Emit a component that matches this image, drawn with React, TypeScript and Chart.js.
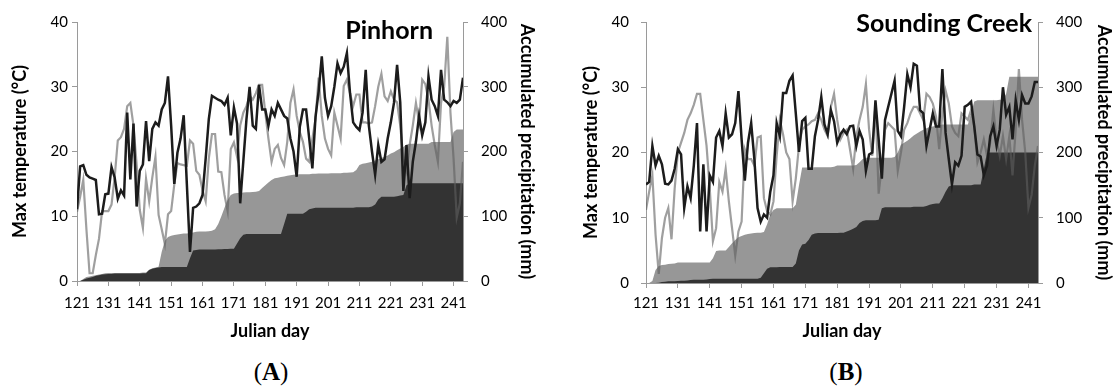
import React, { useEffect, useRef } from 'react';
import { Chart, registerables } from 'chart.js';

Chart.register(...registerables);

// Julian days on the x axis (one value per day)
const FIRST_DAY = 121;
const LAST_DAY = 244;
const julianDays: number[] = Array.from({ length: LAST_DAY - FIRST_DAY + 1 }, (_, i) => FIRST_DAY + i);
const dayTicks = [121, 131, 141, 151, 161, 171, 181, 191, 201, 211, 221, 231, 241];
const tempTicks = [0, 10, 20, 30, 40];
const precipTicks = [0, 100, 200, 300, 400];

// Pinhorn: daily maximum temperature (°C)
const pinhornTempDark = [
  11.1, 17.7, 17.9, 16.4, 16.0, 15.8, 15.6, 10.3, 10.4, 13.4,
  13.5, 17.6, 16.0, 12.7, 14.0, 13.2, 26.0, 15.7, 24.3, 11.5,
  17.0, 18.0, 24.7, 18.5, 23.5, 24.5, 24.0, 26.5, 27.5, 31.6,
  24.0, 15.0, 19.8, 22.0, 25.6, 15.0, 4.5, 11.3, 11.5, 12.0,
  13.3, 18.9, 25.0, 28.6, 28.3, 28.0, 27.8, 27.2, 28.3, 22.5,
  26.8, 24.3, 12.0, 18.5, 25.0, 30.0, 24.0, 23.5, 30.3, 26.5,
  26.5, 24.0, 26.5, 25.5, 27.5, 26.5, 25.5, 25.1, 22.0, 20.0,
  16.1, 23.8, 26.5, 26.5, 22.0, 17.4, 25.3, 29.3, 34.7, 28.3,
  25.5, 27.0, 30.0, 33.6, 32.1, 33.1, 35.2, 29.0, 24.5, 23.8,
  23.3, 26.0, 32.6, 24.0, 20.0, 16.4, 21.0, 18.4, 18.8, 22.0,
  24.5, 27.5, 33.4, 27.6, 13.9, 21.0, 12.8, 18.4, 21.5, 25.5,
  22.5, 24.5, 31.6, 28.0, 27.0, 25.5, 32.6, 28.0, 27.6, 27.0,
  27.8, 27.5, 28.0, 31.4,
];
const pinhornTempGrey = [
  10.7, 13.0, 15.6, 8.0, 1.2, 1.2, 4.0, 6.5, 10.8, 10.8,
  10.8, 11.8, 16.0, 21.7, 22.2, 23.5, 27.0, 27.5, 24.0, 18.0,
  11.0, 8.2, 15.8, 12.3, 16.0, 19.2, 10.2, 8.0, 5.7, 10.3,
  10.8, 14.9, 18.2, 18.0, 17.9, 17.8, 21.7, 21.2, 17.0, 16.4,
  14.0, 12.3, 18.9, 22.7, 22.7, 16.9, 16.8, 13.3, 10.8, 20.4,
  21.4, 19.2, 24.0, 26.0, 27.0, 28.6, 28.0, 29.0, 30.3, 30.3,
  26.0, 22.0, 18.4, 20.4, 21.0, 19.0, 17.9, 21.5, 27.5, 29.6,
  25.5, 23.0, 21.5, 18.9, 18.4, 22.0, 25.0, 31.4, 25.5, 22.0,
  20.4, 19.4, 26.0, 24.0, 22.0, 30.1, 31.1, 29.0, 27.0, 28.8,
  28.8, 24.5, 24.5, 24.3, 24.5, 27.0, 30.0, 32.0, 28.5, 27.8,
  29.3, 28.0, 27.6, 24.0, 18.9, 17.0, 21.0, 24.0, 27.5, 24.5,
  31.1, 30.4, 28.0, 24.0, 21.0, 18.4, 27.5, 30.0, 37.7, 26.0,
  18.9, 9.8, 12.0, 18.4,
];
// Pinhorn: accumulated precipitation (mm)
const pinhornPrecipDark = [
  0, 0, 2, 4, 5, 6, 8, 9, 10, 10.5,
  11, 11, 11.5, 11.5, 11.5, 11.5, 11.5, 11.5, 11.5, 11.5,
  11.5, 12, 12, 17, 19, 20, 21, 21.8, 21.8, 21.8,
  21.8, 21.8, 21.8, 21.8, 21.8, 21.8, 35, 47, 48, 48.5,
  48.5, 48.5, 48.5, 48.5, 48.5, 49, 49, 49.5, 49.5, 50,
  50, 58, 66, 71.5, 72.6, 72.6, 72.6, 72.6, 72.6, 72.6,
  72.6, 72.6, 72.6, 72.6, 72.6, 72.6, 88, 104, 104, 104,
  104, 104, 104, 107, 111, 112, 113, 113, 113, 113,
  113, 113, 113, 113, 113, 113, 113, 113, 113, 114,
  114, 114, 114, 114, 115, 118, 126, 130, 130, 130,
  130, 130, 131, 132, 133, 148, 151, 151, 151, 151,
  151, 151, 151, 151, 151, 151, 151, 151, 151, 151,
  151, 151, 151, 151,
];
const pinhornPrecipGrey = [
  0, 0, 3, 6, 7, 8, 9, 10, 11, 12,
  12.5, 12.5, 12.5, 12.5, 12.5, 12.5, 12.5, 12.5, 12.5, 12.5,
  12.5, 13, 13, 17.5, 19.5, 21, 22, 45, 62, 68,
  70, 71, 72, 72.6, 73.5, 73.5, 74, 75, 76, 76.5,
  76.5, 76.5, 77, 77.6, 80, 88, 100, 113, 125, 133,
  135, 136, 136, 136.5, 137, 137, 137.5, 138, 139, 143.5,
  148, 152, 156, 158.7, 159.5, 160.5, 161.5, 162.5, 163.5, 164,
  164.5, 165, 165, 165, 165, 165.5, 165.5, 166, 166, 166,
  166, 166.5, 166.5, 166.5, 166.5, 167, 167, 167.5, 168, 171.5,
  179, 181, 182, 183, 184, 186, 188, 190, 192, 194,
  197, 199, 202, 204.6, 207, 210.7, 212, 212, 212, 212,
  212, 212, 212, 214.7, 214.7, 214.7, 214.7, 214.7, 214.7, 214.7,
  230, 234, 234, 234,
];

// Sounding Creek: daily maximum temperature (°C)
const soundingTempDark = [
  15.1, 15.5, 21.0, 18.0, 19.5, 18.2, 15.2, 15.1, 15.7, 17.5,
  20.5, 19.7, 11.5, 14.8, 13.0, 18.0, 24.5, 7.9, 18.2, 7.9,
  16.5, 15.5, 22.3, 23.3, 21.0, 26.0, 22.3, 22.8, 24.5, 29.4,
  22.0, 15.7, 21.5, 24.5, 19.0, 11.5, 9.4, 10.5, 10.0, 14.0,
  16.5, 24.5, 22.5, 29.1, 29.1, 31.0, 31.8, 26.0, 20.1, 24.8,
  25.3, 17.5, 17.5, 22.5, 25.0, 28.5, 24.3, 22.8, 26.5, 24.8,
  21.5, 22.8, 23.5, 22.8, 24.0, 24.1, 21.0, 23.3, 22.0, 17.2,
  19.7, 20.0, 28.0, 22.0, 16.0, 25.0, 27.0, 29.0, 31.0, 23.3,
  22.5, 27.0, 32.0, 30.0, 33.6, 33.3, 26.5, 26.0, 21.0, 23.5,
  26.0, 24.0, 24.0, 32.8, 23.0, 19.0, 15.1, 18.5, 18.0, 19.5,
  27.0, 27.3, 27.8, 24.0, 19.7, 19.4, 16.5, 18.0, 22.5, 24.0,
  21.0, 23.5, 30.0, 25.8, 27.0, 22.0, 28.0, 25.0, 28.8, 27.5,
  27.5, 28.6, 30.8, 30.8,
];
const soundingTempGrey = [
  11.2, 14.0, 16.5, 7.4, 1.4, 6.9, 10.0, 11.5, 6.7, 14.5,
  20.0, 21.5, 23.0, 25.0, 26.0, 27.3, 29.0, 29.0, 25.0, 21.0,
  14.5, 6.4, 8.4, 15.5, 14.0, 17.5, 12.5, 8.4, 4.2, 7.9,
  9.4, 20.5, 19.0, 19.0, 18.0, 22.3, 22.5, 13.0, 11.0, 10.5,
  12.5, 19.5, 25.0, 22.8, 20.0, 19.0, 12.5, 16.0, 21.0, 23.5,
  24.0, 24.3, 24.8, 25.0, 26.0, 25.0, 23.5, 22.5, 27.0, 29.0,
  25.0, 22.0, 23.0, 23.5, 20.5, 17.5, 22.5, 25.0, 27.0, 30.5,
  23.5, 19.5, 27.5, 13.7, 18.0, 23.5, 24.5, 24.0, 23.5, 17.2,
  20.0, 23.5, 24.5, 26.0, 27.0, 27.0, 26.0, 25.0, 29.0, 28.5,
  27.5, 25.5, 20.5, 26.0, 29.5, 27.5, 24.0, 23.0, 22.5, 26.0,
  25.5, 25.0, 26.5, 24.0, 18.5, 20.0, 22.0, 19.5, 21.5, 26.5,
  22.0, 19.5, 22.5, 19.0, 22.5, 16.5, 23.5, 32.8, 25.0, 20.0,
  11.5, 13.5, 18.0, 21.0,
];
// Sounding Creek: accumulated precipitation (mm)
const soundingPrecipDark = [
  0, 0, 0, 0, 0.5, 1.5, 2, 2.5, 2.5, 2.5,
  3, 3.5, 3.5, 4, 4.5, 5, 5, 5, 5, 5.5,
  6, 6.5, 6.5, 6.5, 6.5, 6.5, 6.5, 6.5, 6.5, 6.5,
  6.5, 6.5, 6.5, 6.5, 6.5, 6.6, 8, 15, 22, 24,
  24, 24, 24.5, 24.5, 24.5, 24.5, 24.5, 30, 50, 59,
  60, 66, 74, 76, 76.5, 76.5, 76.5, 76.5, 76.5, 76.5,
  76.5, 77, 77, 79, 81, 83, 86, 92, 95, 96,
  96, 96, 96, 97, 114.5, 116, 116, 116, 116, 116,
  116, 116, 116, 116, 117, 117, 117, 117, 118, 120,
  121, 122, 122, 130, 140, 148, 150, 150, 150, 150,
  150, 150, 150, 151, 151, 151, 175, 200, 200, 200,
  200, 200, 200, 200, 200, 200, 200, 200, 200, 200,
  200, 200, 200, 200,
];
const soundingPrecipGrey = [
  0, 0, 3, 20, 26, 27.5, 28, 29, 29.5, 30,
  31.5, 31.5, 31.5, 31.5, 31.5, 31.5, 31.5, 31.5, 31.5, 31.5,
  31.5, 38, 49, 50, 50, 50, 55, 61, 66, 70,
  72, 74, 75, 76, 76.5, 77, 77, 78, 90, 105,
  112, 114.5, 114.5, 114.5, 114.5, 114.5, 114.5, 120, 150, 177,
  177, 177, 177, 177.5, 177.5, 177.5, 177.5, 177.5, 177.5, 178,
  180, 180, 180, 180, 180, 180, 181, 185, 190, 192,
  192, 192, 192, 192, 192, 192, 192, 192, 193, 200,
  212, 215, 218, 222, 226, 229, 232, 235, 237, 239,
  240, 241, 242, 243, 243, 243, 243, 243, 243, 243,
  243, 243, 260, 278, 280, 280, 280, 280, 280, 280,
  280, 281, 281, 290, 316, 316, 316, 316, 316, 316,
  316, 316, 316, 316,
];

const DARK_LINE = '#1c1c1c';
const GREY_LINE = 'rgba(95,95,95,0.6)';
const DARK_AREA = '#333333';
const GREY_AREA = '#979797';
const AXIS = '#9a9a9a';
const TEXT = '#000000';
const FONT = 'Lato, "Open Sans", sans-serif';

type PanelSpec = {
  name: string;
  tempDark: number[];
  tempGrey: number[];
  precipDark: number[];
  precipGrey: number[];
  left: number;
  width: number;
  height: number;
  leftWidth: number;
  rightWidth: number;
  areaTop: number;
  xHeight: number;
  yLeftTickPad: number;
  yRightTickPad: number;
  leftTitlePad: number;
  rightTitlePad: number;
  xTickPad: number;
  xTitlePad: number;
  nameX: number;
  nameY: number;
};

const panelName = {
  id: 'panelName',
  afterDraw(chart: any, _args: any, opts: any) {
    const { ctx } = chart;
    ctx.save();
    ctx.font = `bold 25px ${FONT}`;
    ctx.fillStyle = '#000';
    ctx.textAlign = 'right';
    ctx.textBaseline = 'alphabetic';
    ctx.fillText(opts.text, opts.x, opts.y);
    ctx.restore();
  },
};

function buildChart(canvas: HTMLCanvasElement, p: PanelSpec) {
  const pts = (vals: number[]) => vals.map((v, i) => ({ x: julianDays[i], y: v }));
  const tickFont = { family: FONT, size: 15 };
  const titleFont = { family: FONT, size: 18, weight: 'bold' as const };
  return new Chart(canvas, {
    type: 'line',
    data: {
      datasets: [
        {
          data: pts(p.tempDark), yAxisID: 'yT', borderColor: DARK_LINE, borderWidth: 2.5,
          pointRadius: 0, fill: false, order: 1, tension: 0,
        },
        {
          data: pts(p.tempGrey), yAxisID: 'yT', borderColor: GREY_LINE, borderWidth: 2.2,
          pointRadius: 0, fill: false, order: 2, tension: 0,
        },
        {
          data: pts(p.precipDark), yAxisID: 'yP', borderColor: 'rgba(0,0,0,0)', borderWidth: 0,
          backgroundColor: DARK_AREA, fill: 'origin', pointRadius: 0, order: 3,
        },
        {
          data: pts(p.precipGrey), yAxisID: 'yP', borderColor: 'rgba(0,0,0,0)', borderWidth: 0,
          backgroundColor: GREY_AREA, fill: 'origin', pointRadius: 0, order: 4,
        },
      ],
    } as any,
    options: {
      responsive: false,
      animation: false,
      events: [],
      layout: { padding: { left: 0, right: 0, top: p.areaTop, bottom: 0 } },
      plugins: {
        legend: { display: false },
        tooltip: { enabled: false },
        panelName: { text: p.name, x: p.nameX, y: p.nameY },
      } as any,
      scales: {
        x: {
          type: 'linear',
          position: 'bottom',
          min: FIRST_DAY,
          max: LAST_DAY,
          afterBuildTicks: (s: any) => { s.ticks = dayTicks.map((v) => ({ value: v })); },
          afterFit: (s: any) => { s.height = p.xHeight; },
          ticks: {
            autoSkip: false, maxRotation: 0, padding: p.xTickPad, color: TEXT, font: tickFont,
            callback: (v: any) => String(v),
          },
          grid: { drawOnChartArea: false, tickLength: 5, color: AXIS },
          border: { color: AXIS, width: 1 },
          title: {
            display: true, text: 'Julian day', color: TEXT, font: titleFont,
            padding: { top: 0, bottom: p.xTitlePad },
          },
        },
        yT: {
          type: 'linear',
          position: 'left',
          min: 0,
          max: 40,
          afterBuildTicks: (s: any) => { s.ticks = tempTicks.map((v) => ({ value: v })); },
          afterFit: (s: any) => { s.width = p.leftWidth; },
          ticks: { padding: p.yLeftTickPad, color: TEXT, font: tickFont },
          grid: { drawOnChartArea: false, tickLength: 5, color: AXIS },
          border: { color: AXIS, width: 1 },
          title: {
            display: true, text: 'Max temperature (°C)', color: TEXT, font: titleFont,
            padding: { top: p.leftTitlePad, bottom: 0 },
          },
        },
        yP: {
          type: 'linear',
          position: 'right',
          min: 0,
          max: 400,
          afterBuildTicks: (s: any) => { s.ticks = precipTicks.map((v) => ({ value: v })); },
          afterFit: (s: any) => { s.width = p.rightWidth; },
          ticks: { padding: p.yRightTickPad, color: TEXT, font: tickFont },
          grid: { drawOnChartArea: false, tickLength: 5, color: AXIS },
          border: { color: AXIS, width: 1 },
          title: {
            display: true, text: 'Accumulated precipitation (mm)', color: TEXT, font: titleFont,
            padding: { top: p.rightTitlePad, bottom: 0 },
          },
        },
      },
    } as any,
    plugins: [panelName],
  });
}

const pinhornPanel: PanelSpec = {
  name: 'Pinhorn',
  tempDark: pinhornTempDark,
  tempGrey: pinhornTempGrey,
  precipDark: pinhornPrecipDark,
  precipGrey: pinhornPrecipGrey,
  left: 0, width: 560, height: 345,
  leftWidth: 77, rightWidth: 97, areaTop: 18, xHeight: 64,
  yLeftTickPad: 4, yRightTickPad: 13, leftTitlePad: 9, rightTitlePad: 22,
  xTickPad: 8, xTitlePad: 3, nameX: 433, nameY: 39,
};

const soundingPanel: PanelSpec = {
  name: 'Sounding Creek',
  tempDark: soundingTempDark,
  tempGrey: soundingTempGrey,
  precipDark: soundingPrecipDark,
  precipGrey: soundingPrecipGrey,
  left: 560, width: 557, height: 345,
  leftWidth: 86, rightWidth: 79, areaTop: 17, xHeight: 62,
  yLeftTickPad: 12, yRightTickPad: 13, leftTitlePad: 20, rightTitlePad: 2,
  xTickPad: 6, xTitlePad: 3, nameX: 472, nameY: 32,
};

function Panel({ spec }: { spec: PanelSpec }) {
  const ref = useRef<HTMLCanvasElement | null>(null);
  useEffect(() => {
    if (!ref.current) return;
    const chart = buildChart(ref.current, spec);
    return () => chart.destroy();
  }, [spec]);
  return (
    <canvas
      ref={ref}
      width={spec.width}
      height={spec.height}
      style={{ position: 'absolute', left: spec.left, top: 0, width: spec.width, height: spec.height }}
    />
  );
}

const labelStyle: React.CSSProperties = {
  position: 'absolute',
  top: 358,
  width: 60,
  textAlign: 'center',
  fontFamily: '"Liberation Serif", "DejaVu Serif", serif',
  fontSize: 25,
  lineHeight: '28px',
  color: '#000',
};

export default function App() {
  return (
    <div style={{ position: 'absolute', left: 0, top: 0, width: 1117, height: 387, background: '#fff', overflow: 'hidden' }}>
      <Panel spec={pinhornPanel} />
      <Panel spec={soundingPanel} />
      <div style={{ ...labelStyle, left: 241 }}>(<b>A</b>)</div>
      <div style={{ ...labelStyle, left: 816 }}>(<b>B</b>)</div>
    </div>
  );
}
